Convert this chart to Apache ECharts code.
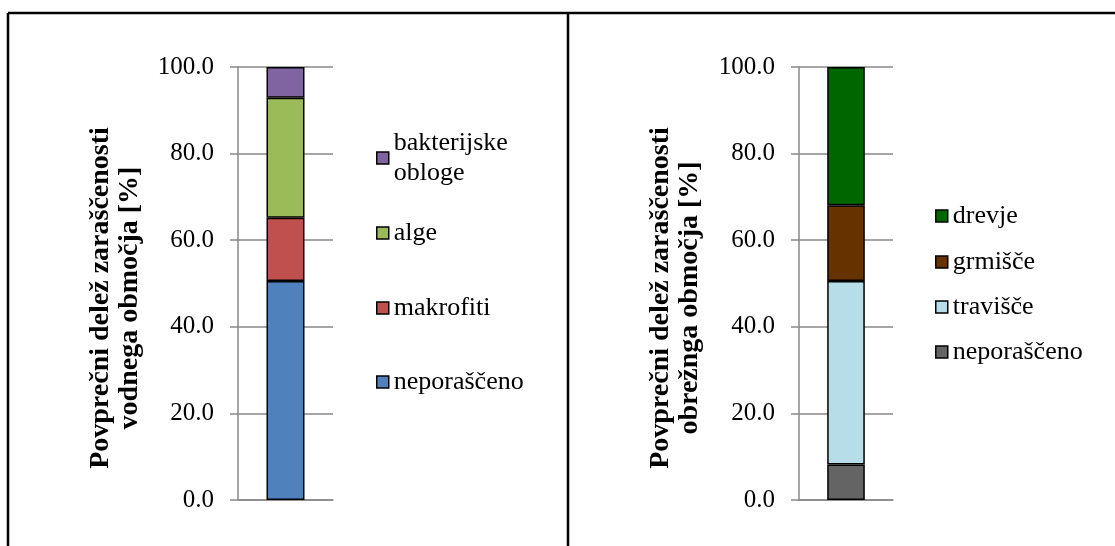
<!DOCTYPE html>
<html>
<head>
<meta charset="utf-8">
<script src="https://cdn.jsdelivr.net/npm/echarts@6/dist/echarts.min.js"></script>
<style>
  html, body { margin: 0; padding: 0; background: #fff; }
  #chart { width: 1115px; height: 546px; }
</style>
</head>
<body>
<div id="chart"></div>
<script>
// Water area: average overgrowth share, stacked bottom to top
const waterLabels = ['neporaščeno', 'makrofiti', 'alge', 'bakterijske\nobloge'];
const waterValues = [50.6, 14.6, 27.7, 7.1];
const waterColors = ['#4F81BD', '#C0504D', '#9BBB59', '#8064A2'];

// Riparian area: average overgrowth share, stacked bottom to top
const shoreLabels = ['neporaščeno', 'travišče', 'grmišče', 'drevje'];
const shoreValues = [8.2, 42.4, 17.5, 31.9];
const shoreColors = ['#646464', '#B7DEE8', '#663300', '#006600'];

const waterTitle = 'Povprečni delež zaraščenosti\nvodnega območja [%]';
const shoreTitle = 'Povprečni delež zaraščenosti\nobrežnga območja [%]';

const FONT = "'Liberation Serif', 'Times New Roman', serif";
const AXIS_GREY = '#898989';

// Shore series get a trailing space so their names stay distinct from the water ones
const shoreNames = shoreLabels.map(l => l + ' ');

const chart = echarts.init(document.getElementById('chart'), null, { renderer: 'canvas' });

function yAxisFor(gridIndex) {
  return {
    type: 'value', gridIndex, min: 0, max: 100, interval: 20,
    axisLine: { show: true, lineStyle: { color: AXIS_GREY, width: 1.5 } },
    axisTick: { show: true, length: 8, lineStyle: { color: AXIS_GREY, width: 1.5 } },
    splitLine: { show: true, lineStyle: { color: AXIS_GREY, width: 1.5 } },
    axisLabel: { margin: 24, fontFamily: FONT, fontSize: 25, color: '#000',
                 formatter: v => v.toFixed(1) }
  };
}
function xAxisFor(gridIndex) {
  return {
    type: 'category', gridIndex, data: [''],
    axisLine: { show: true, lineStyle: { color: AXIS_GREY, width: 1.5 } },
    axisTick: { show: false }, axisLabel: { show: false }, splitLine: { show: false }
  };
}
function barSeries(names, values, colors, axisIndex, stack) {
  return names.map((n, i) => ({
    name: n, type: 'bar', stack, xAxisIndex: axisIndex, yAxisIndex: axisIndex,
    barWidth: '40%', data: [values[i]],
    itemStyle: { color: colors[i], borderColor: '#000', borderWidth: 1.5 },
    emphasis: { disabled: true }
  }));
}
function legendItem(name, left, top, extraText) {
  return {
    data: [name], left, top, padding: 0, orient: 'vertical',
    icon: 'rect', itemWidth: 12, itemHeight: 12, selectedMode: false,
    itemStyle: { borderColor: '#000', borderWidth: 1.5 },
    formatter: n => n.trim(),
    textStyle: Object.assign({ fontFamily: FONT, fontSize: 26, lineHeight: 30, color: '#000' }, extraText || {})
  };
}

const waterLegendTops = [367, 293, 218, 113];
const shoreLegendTops = [337, 292, 247, 201];

const legends = [];
waterLabels.forEach((n, i) => {
  legends.push(legendItem(n, 376, waterLegendTops[i], n.includes('\n') ? { padding: [30, 0, 0, 0] } : null));
});
shoreNames.forEach((n, i) => legends.push(legendItem(n, 935, shoreLegendTops[i])));

const titleStyle = { fontFamily: FONT, fontSize: 28, fontWeight: 'bold', lineHeight: 29,
                     align: 'center', verticalAlign: 'middle', fill: '#000' };

const option = {
  animation: false,
  backgroundColor: '#fff',
  grid: [
    { left: 238, top: 67, width: 95, height: 433 },
    { left: 799, top: 67, width: 94, height: 433 }
  ],
  xAxis: [xAxisFor(0), xAxisFor(1)],
  yAxis: [yAxisFor(0), yAxisFor(1)],
  legend: legends,
  series: [
    ...barSeries(waterLabels, waterValues, waterColors, 0, 'water'),
    ...barSeries(shoreNames, shoreValues, shoreColors, 1, 'shore')
  ],
  graphic: [
    { type: 'line', shape: { x1: 8, y1: 13, x2: 1115, y2: 13 }, style: { stroke: '#000', lineWidth: 2.5 } },
    { type: 'line', shape: { x1: 8, y1: 13, x2: 8, y2: 546 }, style: { stroke: '#000', lineWidth: 2.5 } },
    { type: 'line', shape: { x1: 568, y1: 13, x2: 568, y2: 546 }, style: { stroke: '#000', lineWidth: 2.5 } },
    { type: 'text', x: 115, y: 298, rotation: Math.PI / 2,
      style: Object.assign({ text: waterTitle }, titleStyle) },
    { type: 'text', x: 675, y: 298, rotation: Math.PI / 2,
      style: Object.assign({ text: shoreTitle }, titleStyle) }
  ]
};
chart.setOption(option);
</script>
</body>
</html>
